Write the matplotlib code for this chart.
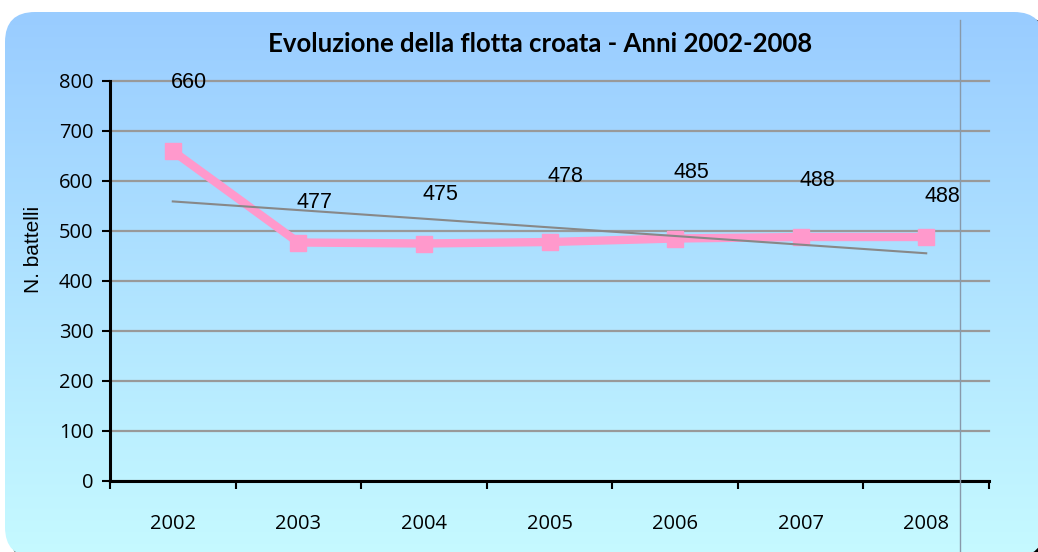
import numpy as np
import matplotlib
matplotlib.use("Agg")
import matplotlib.pyplot as plt
from matplotlib.patches import FancyBboxPatch
from matplotlib.lines import Line2D

# Dati
anni = ["2002", "2003", "2004", "2005", "2006", "2007", "2008"]
battelli = [660, 477, 475, 478, 485, 488, 488]
# posizione (in valore) delle etichette dati, come nel grafico originale
etichette_y = [796, 556, 574, 610, 616, 600, 568]

plt.rcParams["font.family"] = "Open Sans"

fig = plt.figure(figsize=(10.38, 5.52), dpi=100)

# Sfondo con angoli arrotondati e sfumatura
bg = fig.add_axes([0, 0, 1, 1])
bg.set_xlim(0, 1038)
bg.set_ylim(552, 0)
bg.axis("off")
ombra = FancyBboxPatch((10, 17), 1041, 546, boxstyle="round,pad=0,rounding_size=30",
                       facecolor="black", edgecolor="none", transform=bg.transData)
bg.add_patch(ombra)
cornice = FancyBboxPatch((5, 12), 1039, 545, boxstyle="round,pad=0,rounding_size=30",
                         facecolor="none", edgecolor="none", transform=bg.transData)
bg.add_patch(cornice)
grad = np.linspace(0, 1, 256).reshape(-1, 1)
top = np.array([0x99, 0xCC, 0xFF]) / 255
bot = np.array([0xC6, 0xFA, 0xFF]) / 255
img = top + (bot - top) * grad[..., None]
im = bg.imshow(img, extent=[5, 1044, 557, 12], aspect="auto", zorder=1)
im.set_clip_path(cornice)

# Grafico
ax = fig.add_axes([110 / 1038, 1 - 481 / 552, 879 / 1038, 400 / 552])
ax.patch.set_alpha(0)
x = np.arange(len(anni))

ax.set_ylim(0, 800)
ax.set_xlim(-0.5, len(anni) - 0.5)
ax.set_yticks(range(0, 801, 100))
ax.yaxis.grid(True, color="#999999", linewidth=1.6)
for g in ax.get_ygridlines():
    g.set_clip_on(False)
ax.set_axisbelow(True)
ax.set_xticks(np.arange(-0.5, len(anni), 1))
ax.set_xticklabels([])
ax.set_xticks(x, minor=True)
ax.set_xticklabels(anni, minor=True)
ax.tick_params(axis="x", which="minor", length=0, pad=24, labelsize=14.5)
ax.tick_params(axis="x", which="major", length=6, width=1.5, direction="out")
ax.tick_params(axis="y", length=6, width=1.5, direction="out", pad=6, labelsize=14.5)
for s in ["top", "right"]:
    ax.spines[s].set_visible(False)
ax.spines["left"].set_linewidth(2.2)
ax.spines["bottom"].set_linewidth(2.2)

ax.plot(x, battelli, color="#FF99CC", linewidth=6, marker="s", markersize=12,
        solid_joinstyle="miter", zorder=3)

# Linea di tendenza lineare
coef = np.polyfit(x, battelli, 1)
ax.plot(x, np.polyval(coef, x), color="#888888", linewidth=1.5, zorder=4)

for xi, v, ly in zip(x, battelli, etichette_y):
    ax.text(xi + 0.13, ly, str(v), ha="center", va="center", fontsize=15.5,
            family="Liberation Sans", zorder=5)

ax.set_ylabel("N. battelli", fontsize=15, family="Liberation Sans")
ax.yaxis.set_label_coords(-0.076, 0.58)

fig.text(540 / 1038, 1 - 44 / 552, "Evoluzione della flotta croata - Anni 2002-2008",
         ha="center", va="center", fontsize=18.5, fontweight="bold", family="Lato")

fig.add_artist(Line2D([960 / 1038, 960 / 1038], [0, 1 - 20 / 552], color="#8899AA",
                      linewidth=1))

fig.savefig("out.png", dpi=100)
